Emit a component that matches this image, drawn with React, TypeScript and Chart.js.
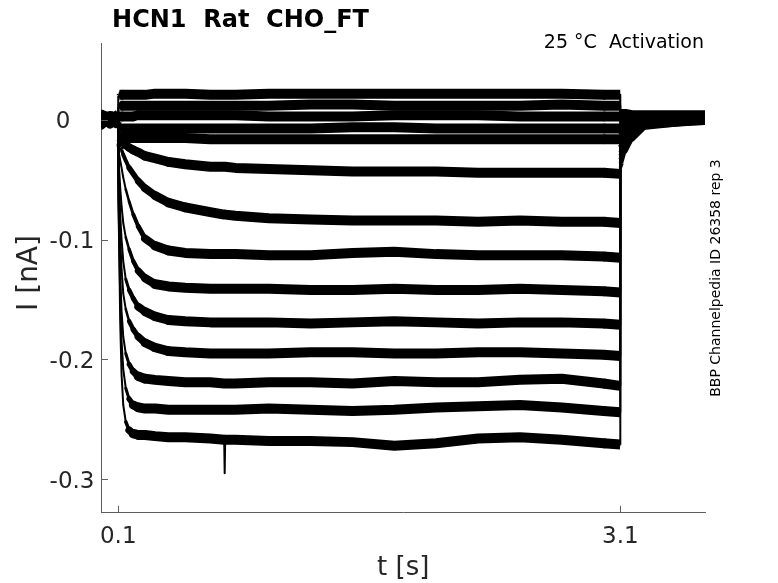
import React, { useEffect, useRef } from "react";
import { Chart, registerables } from "chart.js";

Chart.register(...registerables);

// ---- data ----
const TIME_S = [
  0, 0.05, 0.0995, 0.1, 0.103, 0.107, 0.112, 0.12, 0.13, 0.145, 0.165, 0.19, 0.22, 0.26, 0.32, 0.4, 0.5, 0.65,
  0.733, 0.736, 0.739, 0.8, 1.0, 1.25, 1.5, 1.75, 2.0, 2.25, 2.5, 2.75, 3.0, 3.0995, 3.1, 3.11, 3.13, 3.17, 3.25, 3.6,
];

const TRACE_P1 = [
  0.0, -0.002, 0.003, 0.02, 0.02, 0.021, 0.021, 0.021, 0.021, 0.021, 0.021, 0.021, 0.021, 0.021, 0.022, 0.022, 0.022, 0.021,
  0.021, 0.021, 0.021, 0.021, 0.022, 0.022, 0.022, 0.022, 0.022, 0.022, 0.022, 0.022, 0.021, 0.021, 0.005, 0.005, 0.005, 0.004, 0.004, 0.004,
];
const TRACE_P2 = [
  0.005, 0.002, -0.002, 0.011, 0.011, 0.011, 0.012, 0.012, 0.012, 0.012, 0.012, 0.012, 0.012, 0.012, 0.012, 0.012, 0.012, 0.012,
  0.012, 0.012, 0.012, 0.012, 0.012, 0.013, 0.013, 0.012, 0.012, 0.012, 0.012, 0.013, 0.012, 0.012, 0.003, 0.003, 0.003, 0.003, 0.003, 0.003,
];
const TRACE_P3 = [
  -0.003, 0.004, 0.0, 0.003, 0.003, 0.003, 0.003, 0.003, 0.003, 0.003, 0.003, 0.003, 0.004, 0.004, 0.004, 0.004, 0.004, 0.004,
  0.004, 0.004, 0.004, 0.004, 0.003, 0.003, 0.003, 0.004, 0.004, 0.004, 0.003, 0.003, 0.003, 0.003, 0.002, 0.002, 0.002, 0.002, 0.002, 0.002,
];
const TRACE_P4 = [
  0.002, -0.003, 0.004, -0.006, -0.006, -0.006, -0.006, -0.006, -0.007, -0.007, -0.007, -0.007, -0.007, -0.007, -0.007, -0.007, -0.007, -0.007,
  -0.007, -0.007, -0.007, -0.007, -0.007, -0.007, -0.006, -0.006, -0.007, -0.007, -0.007, -0.007, -0.007, -0.007, 0.001, 0.001, 0.001, 0.001, 0.001, 0.001,
];
const TRACE_P5 = [
  -0.005, 0.001, 0.005, -0.013, -0.013, -0.013, -0.014, -0.014, -0.014, -0.014, -0.015, -0.015, -0.015, -0.015, -0.015, -0.015, -0.015, -0.016,
  -0.016, -0.016, -0.016, -0.016, -0.016, -0.016, -0.016, -0.016, -0.016, -0.016, -0.016, -0.016, -0.016, -0.016, -0.001, -0.001, 0.0, 0.0, 0.0, 0.001,
];
const TRACE_A = [
  0.0, 0.004, 0.001, -0.016, -0.016, -0.017, -0.017, -0.018, -0.019, -0.021, -0.023, -0.025, -0.027, -0.03, -0.032, -0.035, -0.037, -0.039,
  -0.039, -0.039, -0.039, -0.04, -0.041, -0.042, -0.043, -0.043, -0.043, -0.044, -0.044, -0.044, -0.044, -0.045, -0.007, -0.006, -0.004, -0.002, 0.001, 0.003,
];
const TRACE_B = [
  0.003, -0.001, -0.003, -0.02, -0.021, -0.022, -0.023, -0.025, -0.029, -0.034, -0.04, -0.045, -0.051, -0.057, -0.063, -0.069, -0.073, -0.077,
  -0.079, -0.079, -0.079, -0.08, -0.082, -0.083, -0.084, -0.084, -0.084, -0.085, -0.084, -0.085, -0.085, -0.086, -0.013, -0.012, -0.009, -0.005, -0.001, 0.002,
];
const TRACE_C = [
  -0.004, 0.002, -0.001, -0.025, -0.027, -0.03, -0.034, -0.04, -0.048, -0.058, -0.068, -0.079, -0.089, -0.099, -0.105, -0.109, -0.111, -0.112,
  -0.112, -0.112, -0.112, -0.112, -0.113, -0.113, -0.111, -0.11, -0.112, -0.113, -0.113, -0.113, -0.114, -0.115, -0.018, -0.016, -0.012, -0.007, -0.001, 0.0,
];
const TRACE_D = [
  0.001, -0.003, 0.002, -0.028, -0.035, -0.045, -0.057, -0.072, -0.086, -0.098, -0.108, -0.118, -0.126, -0.132, -0.137, -0.139, -0.14, -0.141,
  -0.141, -0.141, -0.141, -0.141, -0.141, -0.142, -0.142, -0.141, -0.142, -0.142, -0.141, -0.142, -0.143, -0.144, -0.023, -0.021, -0.015, -0.009, -0.002, 0.002,
];
const TRACE_E = [
  -0.002, 0.003, 0.0, -0.03, -0.042, -0.06, -0.08, -0.1, -0.118, -0.133, -0.142, -0.149, -0.156, -0.16, -0.164, -0.167, -0.168, -0.169,
  -0.169, -0.169, -0.169, -0.169, -0.169, -0.17, -0.169, -0.168, -0.169, -0.17, -0.169, -0.169, -0.17, -0.171, -0.027, -0.024, -0.017, -0.01, -0.002, 0.001,
];
const TRACE_F = [
  0.005, 0.0, -0.004, -0.032, -0.05, -0.075, -0.1, -0.125, -0.145, -0.158, -0.168, -0.175, -0.181, -0.186, -0.19, -0.193, -0.194, -0.195,
  -0.195, -0.195, -0.195, -0.195, -0.195, -0.194, -0.194, -0.195, -0.195, -0.194, -0.194, -0.195, -0.196, -0.197, -0.03, -0.027, -0.019, -0.011, -0.002, 0.003,
];
const TRACE_G = [
  -0.003, 0.001, 0.003, -0.034, -0.058, -0.095, -0.13, -0.16, -0.181, -0.195, -0.204, -0.21, -0.214, -0.216, -0.217, -0.218, -0.219, -0.219,
  -0.22, -0.22, -0.22, -0.22, -0.219, -0.219, -0.22, -0.218, -0.219, -0.219, -0.217, -0.216, -0.22, -0.222, -0.033, -0.03, -0.021, -0.012, -0.003, 0.0,
];
const TRACE_H = [
  0.004, 0.002, -0.002, -0.036, -0.065, -0.11, -0.15, -0.185, -0.208, -0.224, -0.233, -0.238, -0.24, -0.241, -0.241, -0.242, -0.242, -0.242,
  -0.242, -0.242, -0.242, -0.242, -0.241, -0.242, -0.243, -0.242, -0.24, -0.239, -0.238, -0.24, -0.243, -0.244, -0.036, -0.032, -0.023, -0.013, -0.003, 0.002,
];
const TRACE_I = [
  0.002, -0.004, 0.001, -0.038, -0.07, -0.12, -0.17, -0.213, -0.238, -0.252, -0.259, -0.262, -0.263, -0.263, -0.264, -0.265, -0.265, -0.266,
  -0.267, -0.295, -0.267, -0.267, -0.268, -0.268, -0.269, -0.272, -0.27, -0.266, -0.265, -0.267, -0.27, -0.271, -0.04, -0.036, -0.026, -0.015, -0.004, 0.001,
];

const TRACES = [
  TRACE_P1, TRACE_P2, TRACE_P3, TRACE_P4, TRACE_P5,
  TRACE_A, TRACE_B, TRACE_C, TRACE_D, TRACE_E, TRACE_F, TRACE_G, TRACE_H, TRACE_I,
];

const X_TICKS = [0.1, 3.1];
const Y_TICKS = [0, -0.1, -0.2, -0.3];
const X_MIN = 0;
const X_MAX = 3.606;
const Y_MIN = -0.3276;
const Y_MAX = 0.0643;

const TITLE = "HCN1  Rat  CHO_FT";
const SUBTITLE = "25 °C  Activation";
const SIDE_NOTE = "BBP Channelpedia ID 26358 rep 3";
const X_LABEL = "t [s]";
const Y_LABEL = "I [nA]";

// ---- styling ----
const FONT = '"DejaVu Sans", "Liberation Sans", sans-serif';
const TEXT_GREY = "#262626";
const AXIS_GREY = "#5e5e5e";
const TRACE_THICKNESS = 10;

const fmtTick = (v: number) => (v === 0 ? "0" : v.toFixed(1));

// times of the voltage steps: consecutive samples almost at the same time
const STEP_TIMES = TIME_S.filter((t, i) => i > 0 && t - TIME_S[i - 1] < 0.001);
const nearStep = (i: number) => STEP_TIMES.some((s) => Math.abs(TIME_S[i] - s) < 0.021);

const decorations = {
  id: "decorations",
  afterDraw(chart: any) {
    const { ctx, chartArea: a, scales } = chart;
    const xs = scales.x;
    const ys = scales.y;
    ctx.save();

    // inward tick marks
    ctx.strokeStyle = AXIS_GREY;
    ctx.lineWidth = 1;
    X_TICKS.forEach((v) => {
      const px = Math.round(xs.getPixelForValue(v)) + 0.5;
      ctx.beginPath();
      ctx.moveTo(px, a.bottom);
      ctx.lineTo(px, a.bottom - 6.5);
      ctx.stroke();
    });
    Y_TICKS.forEach((v) => {
      const py = Math.round(ys.getPixelForValue(v)) + 0.5;
      ctx.beginPath();
      ctx.moveTo(a.left, py);
      ctx.lineTo(a.left + 6.5, py);
      ctx.stroke();
    });

    // tick labels
    ctx.fillStyle = TEXT_GREY;
    ctx.font = `23px ${FONT}`;
    ctx.textBaseline = "alphabetic";
    ctx.textAlign = "center";
    X_TICKS.forEach((v) => {
      ctx.fillText(fmtTick(v), xs.getPixelForValue(v), a.bottom + 30.7);
    });
    ctx.textAlign = "right";
    Y_TICKS.forEach((v) => {
      const py = ys.getPixelForValue(v);
      const rightX = v === 0 ? a.left - 31 : a.left - 7;
      ctx.fillText(fmtTick(v), rightX, py + 8.3);
    });

    // axis labels
    ctx.font = `26px ${FONT}`;
    ctx.textAlign = "center";
    ctx.fillText(X_LABEL, (a.left + a.right) / 2, 575);

    ctx.save();
    ctx.translate(36.5, 273);
    ctx.rotate(-Math.PI / 2);
    ctx.font = `28px ${FONT}`;
    ctx.textAlign = "center";
    ctx.fillText(Y_LABEL, 0, 0);
    ctx.restore();

    // title
    ctx.fillStyle = "#000";
    ctx.font = `bold 24px ${FONT}`;
    ctx.textAlign = "center";
    ctx.fillText(TITLE, 240.5, 26.5);

    // subtitle (top right)
    ctx.font = `19px ${FONT}`;
    ctx.textAlign = "right";
    ctx.fillText(SUBTITLE, 704, 48);

    // side note
    ctx.save();
    ctx.translate(720, 278);
    ctx.rotate(-Math.PI / 2);
    ctx.font = `14px ${FONT}`;
    ctx.textAlign = "center";
    ctx.fillText(SIDE_NOTE, 0, 0);
    ctx.restore();

    ctx.restore();
  },
};

export default function App() {
  const canvasRef = useRef<HTMLCanvasElement | null>(null);

  useEffect(() => {
    const canvas = canvasRef.current;
    if (!canvas) return;

    const datasets = TRACES.map((vals) => ({
      data: TIME_S.map((t, j) => ({ x: t, y: vals[j] })),
      borderColor: "#000",
      backgroundColor: "#000",
      borderWidth: TRACE_THICKNESS,
      pointRadius: 0,
      tension: 0,
      fill: false,
      clip: 0,
      borderJoinStyle: "round" as const,
      borderCapStyle: "round" as const,
      segment: {
        // a noisy trace has a roughly constant vertical thickness,
        // so the stroke gets thinner where the trace is steep
        borderWidth: (ctx: any) => {
          const dx = ctx.p1.x - ctx.p0.x;
          const dy = ctx.p1.y - ctx.p0.y;
          const h = Math.hypot(dx, dy) || 1;
          const w = Math.max(2, (TRACE_THICKNESS * Math.abs(dx)) / h);
          return Math.round(w * 2) / 2;
        },
        borderCapStyle: (ctx: any) =>
          nearStep(ctx.p0DataIndex) || nearStep(ctx.p1DataIndex) ? "butt" : "round",
      },
    }));

    const chart = new Chart(canvas, {
      type: "line",
      data: { datasets },
      options: {
        animation: false,
        responsive: false,
        maintainAspectRatio: false,
        events: [],
        layout: { padding: { left: 101.5, right: 73, top: 43, bottom: 70.7 } },
        plugins: {
          legend: { display: false },
          tooltip: { enabled: false },
          title: { display: false },
        },
        scales: {
          x: {
            type: "linear",
            min: X_MIN,
            max: X_MAX,
            grid: { display: false },
            border: { display: true, color: AXIS_GREY, width: 1 },
            ticks: { display: false },
            afterFit: (s: any) => {
              s.height = 0;
            },
          },
          y: {
            type: "linear",
            min: Y_MIN,
            max: Y_MAX,
            grid: { display: false },
            border: { display: true, color: AXIS_GREY, width: 1 },
            ticks: { display: false },
            afterFit: (s: any) => {
              s.width = 0;
            },
          },
        },
      },
      plugins: [decorations],
    });

    return () => chart.destroy();
  }, []);

  return (
    <div style={{ position: "fixed", left: 0, top: 0, width: 778, height: 583, background: "#fff" }}>
      <canvas ref={canvasRef} width={778} height={583} style={{ display: "block" }} />
    </div>
  );
}
